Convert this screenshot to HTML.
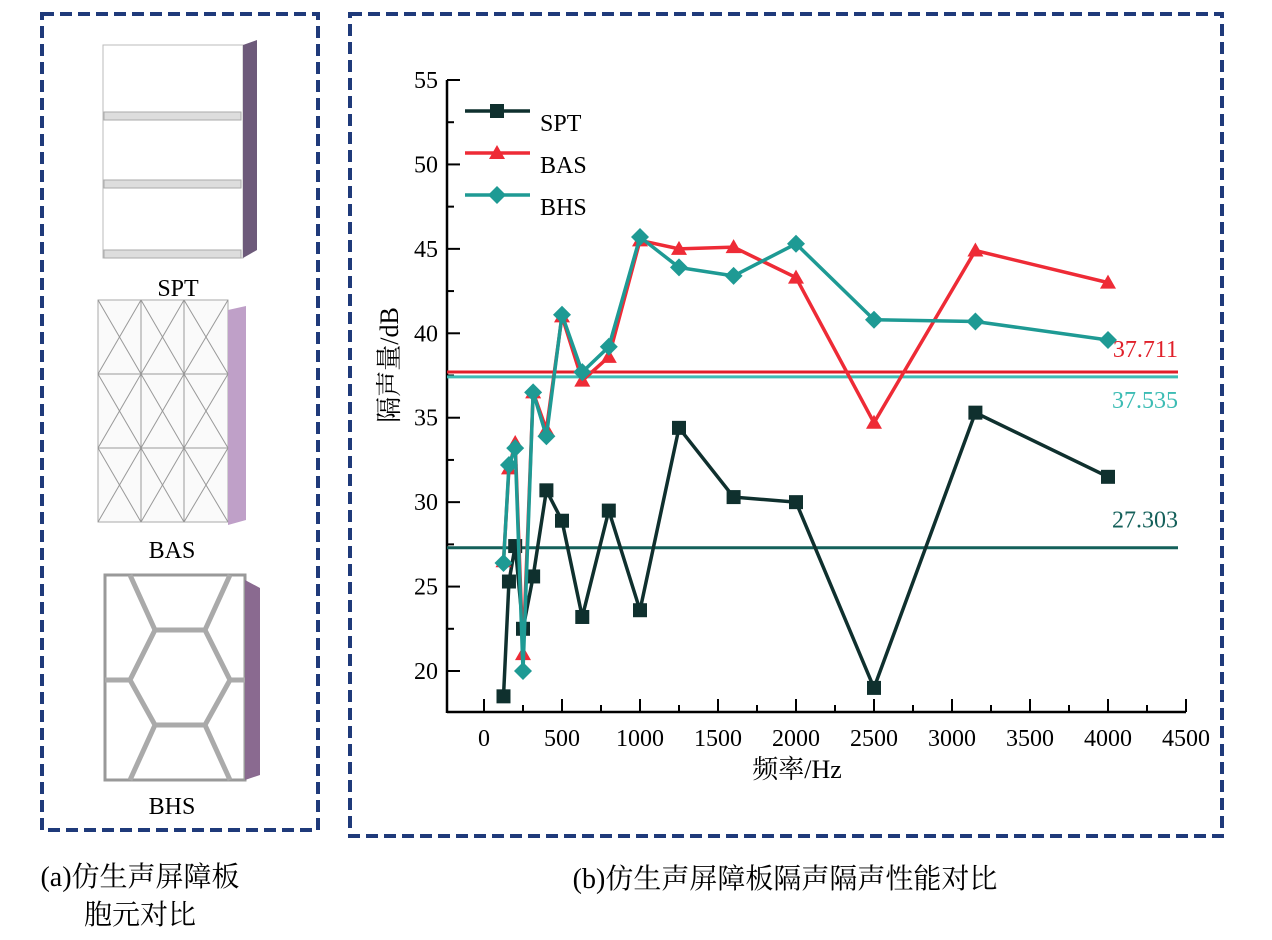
<!DOCTYPE html>
<html><head><meta charset="utf-8"><style>
body{margin:0;width:1272px;height:940px;background:#fff;overflow:hidden;font-family:"Liberation Serif","Noto Serif CJK SC",serif;}
svg{position:absolute;left:0;top:0}
</style></head><body>
<svg width="1272" height="940">
<rect x="42" y="14" width="276" height="816" fill="none" stroke="#1f3a7a" stroke-width="4" stroke-dasharray="12,6"/>
<g>
<polygon points="103,45 243,45 243,258 103,258" fill="#fff" stroke="#bbb"/>
<polygon points="243,45 257,40 257,250 243,258" fill="#6d5a7a"/>
<rect x="104" y="112" width="137" height="8" fill="#ddd" stroke="#aaa"/>
<rect x="104" y="180" width="137" height="8" fill="#ddd" stroke="#aaa"/>
<rect x="104" y="250" width="137" height="8" fill="#ddd" stroke="#aaa"/>
</g>
<text x="178" y="296" font-size="24" text-anchor="middle">SPT</text>
<g>
<rect x="98" y="300" width="130" height="222" fill="#fafafa" stroke="#aaa"/>
<polygon points="228,310 246,306 246,520 228,525" fill="#bfa0c8"/>
<g stroke="#999" stroke-width="1">
<line x1="141" y1="300" x2="141" y2="522"/><line x1="184" y1="300" x2="184" y2="522"/>
<line x1="98" y1="374" x2="228" y2="374"/><line x1="98" y1="448" x2="228" y2="448"/>
<line x1="98" y1="300" x2="141" y2="374"/><line x1="141" y1="300" x2="98" y2="374"/>
<line x1="141" y1="300" x2="184" y2="374"/><line x1="184" y1="300" x2="141" y2="374"/>
<line x1="184" y1="300" x2="228" y2="374"/><line x1="228" y1="300" x2="184" y2="374"/>
<line x1="98" y1="374" x2="141" y2="448"/><line x1="141" y1="374" x2="98" y2="448"/>
<line x1="141" y1="374" x2="184" y2="448"/><line x1="184" y1="374" x2="141" y2="448"/>
<line x1="184" y1="374" x2="228" y2="448"/><line x1="228" y1="374" x2="184" y2="448"/>
<line x1="98" y1="448" x2="141" y2="522"/><line x1="141" y1="448" x2="98" y2="522"/>
<line x1="141" y1="448" x2="184" y2="522"/><line x1="184" y1="448" x2="141" y2="522"/>
<line x1="184" y1="448" x2="228" y2="522"/><line x1="228" y1="448" x2="184" y2="522"/>
</g></g>
<text x="172" y="558" font-size="24" text-anchor="middle">BAS</text>
<g>
<polygon points="105,575 245,575 245,780 105,780" fill="#fff" stroke="#999" stroke-width="3"/>
<polygon points="245,580 260,588 260,775 245,780" fill="#8a6a90"/>
<g fill="none" stroke="#aaa" stroke-width="5">
<polygon points="155,630 205,630 230,680 205,725 155,725 130,680"/>
<line x1="130" y1="575" x2="155" y2="630"/><line x1="230" y1="575" x2="205" y2="630"/>
<line x1="105" y1="680" x2="130" y2="680"/><line x1="230" y1="680" x2="245" y2="680"/>
<line x1="155" y1="725" x2="130" y2="780"/><line x1="205" y1="725" x2="230" y2="780"/>
</g></g>
<text x="172" y="814" font-size="24" text-anchor="middle">BHS</text>
<text x="140" y="886" font-size="28" text-anchor="middle">(a)仿生声屏障板</text>
<text x="140" y="924" font-size="28" text-anchor="middle">胞元对比</text>
<rect x="350" y="14" width="872" height="822" fill="none" stroke="#1f3a7a" stroke-width="4" stroke-dasharray="12,6"/>
<text x="785" y="888" font-size="28" text-anchor="middle">(b)仿生声屏障板隔声隔声性能对比</text>
<g id="chart"></g>
</svg>
<script>
const freqs=[125,160,200,250,315,400,500,630,800,1000,1250,1600,2000,2500,3150,4000];
const spt=[18.5,25.3,27.4,22.5,25.6,30.7,28.9,23.2,29.5,23.6,34.4,30.3,30.0,19.0,35.3,31.5];
const bas=[26.5,32.0,33.5,21.0,36.5,34.3,41.0,37.2,38.6,45.5,45.0,45.1,43.3,34.7,44.9,43.0];
const bhs=[26.4,32.2,33.2,20.0,36.5,33.9,41.1,37.7,39.2,45.7,43.9,43.4,45.3,40.8,40.7,39.6];
const means=[37.711,37.535,27.303];
const meanLabels=["37.711","37.535","27.303"];
const xTicks=[0,500,1000,1500,2000,2500,3000,3500,4000,4500];
const yTicks=[20,25,30,35,40,45,50,55];
const NS="http://www.w3.org/2000/svg";
const g=document.getElementById('chart');
const X=v=>484+v*0.156;
const Y=v=>80+(55-v)*16.886;
function mk(t,a,p){const e=document.createElementNS(NS,t);for(const k in a)e.setAttribute(k,a[k]);(p||g).appendChild(e);return e;}
let ax=mk('line',{x1:447,y1:712,x2:1186,y2:712,stroke:'#000','stroke-width':2.5});


let ay=mk('line',{x1:447,y1:80,x2:447,y2:713,stroke:'#000','stroke-width':2.5});


for(let v=0;v<=4500;v+=250){mk('line',{x1:X(v),y1:712,x2:X(v),y2:v%500===0?699:705,stroke:'#000','stroke-width':2});}
xTicks.forEach(v=>{const t=mk('text',{x:X(v),y:746,'font-size':24,'text-anchor':'middle'});t.textContent=v;

});
for(let v=20;v<=55;v+=2.5){mk('line',{x1:447,y1:Y(v),x2:v%5===0?460:454,y2:Y(v),stroke:'#000','stroke-width':2});}
yTicks.forEach(v=>{const t=mk('text',{x:438,y:Y(v)+8,'font-size':24,'text-anchor':'end'});t.textContent=v;

});
let xt=mk('text',{x:797,y:778,'font-size':26,'text-anchor':'middle'});xt.textContent='频率/Hz';


let yt=mk('text',{x:0,y:0,'font-size':26,'text-anchor':'middle',transform:'translate(398,365) rotate(-90)'});yt.textContent='隔声量/dB';


const mcol=['#e0202a','#3cbcb4','#14605a'];
const mlabY=[-15,33,-20];
means.forEach((m,i)=>{const l=mk('line',{x1:447,y1:Y(m)+(i==1?2:0),x2:1178,y2:Y(m)+(i==1?2:0),stroke:mcol[i],'stroke-width':3});


const t=mk('text',{x:1178,y:Y(m)+mlabY[i],'font-size':24,'text-anchor':'end',fill:mcol[i]});t.textContent=meanLabels[i];

});
function marker(type,x,y,c,p){
 if(type==='sq')return mk('rect',{x:x-7,y:y-7,width:14,height:14,fill:c},p);
 if(type==='tri')return mk('polygon',{points:`${x},${y-8} ${x+8},${y+6} ${x-8},${y+6}`,fill:c},p);
 return mk('polygon',{points:`${x},${y-9} ${x+9},${y} ${x},${y+9} ${x-9},${y}`,fill:c},p);
}
function series(vals,c,type,name){
 const s=mk('g',{});
 
 
 mk('polyline',{points:freqs.map((f,i)=>X(f)+','+Y(vals[i])).join(' '),fill:'none',stroke:c,'stroke-width':3.5},s);
 vals.forEach((v,i)=>{const m=marker(type,X(freqs[i]),Y(v),c,s);
 
 });
}
series(spt,'#0f302e','sq','spt-series');
series(bas,'#ee2b36','tri','bas-series');
series(bhs,'#1e9a94','dia','bhs-series');
const leg=[['SPT','#0f302e','sq'],['BAS','#ee2b36','tri'],['BHS','#1e9a94','dia']];
leg.forEach((e,i)=>{const y=123+i*42;const lg=mk('g',{});


mk('line',{x1:465,y1:y-12,x2:530,y2:y-12,stroke:e[1],'stroke-width':3.5},lg);
marker(e[2],497,y-12,e[1],lg);
const t=mk('text',{x:540,y:y+8,'font-size':24},lg);t.textContent=e[0];});
</script>
</body></html>
